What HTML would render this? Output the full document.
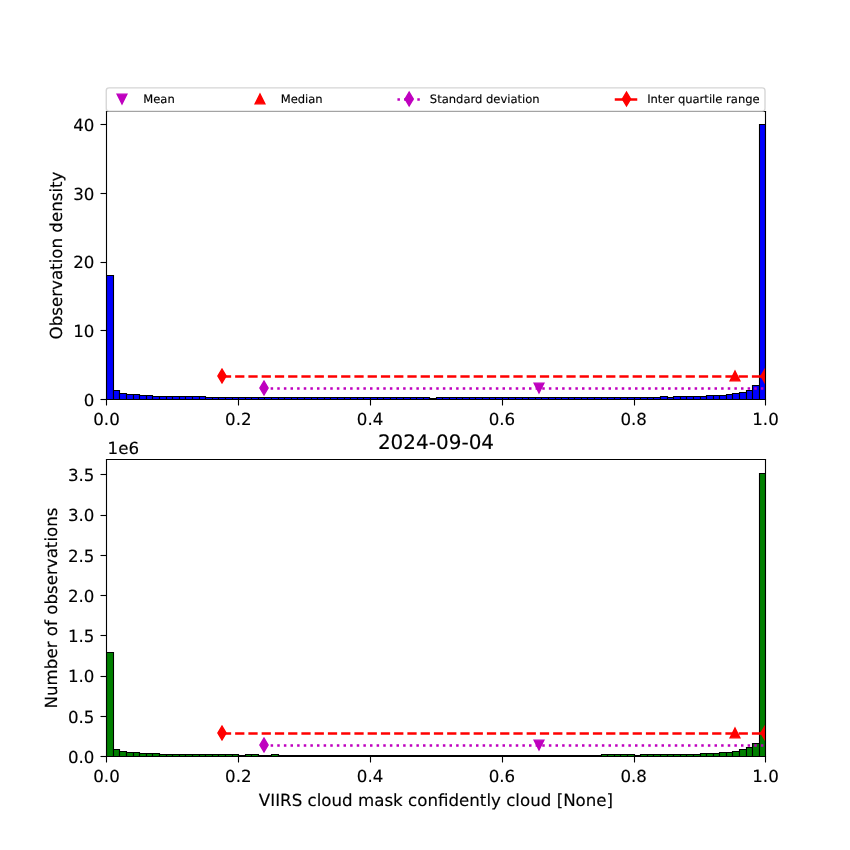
<!DOCTYPE html>
<html lang="en"><head><meta charset="utf-8"><title>VIIRS cloud mask histogram 2024-09-04</title>
<style>
html,body{margin:0;padding:0;background:#fff;}
body{width:850px;height:850px;overflow:hidden;font-family:"DejaVu Sans","Liberation Sans",sans-serif;}
svg{display:block;}
svg text{text-rendering:geometricPrecision;stroke:#000;stroke-width:0.1px;}
</style></head><body>
<svg width="850" height="850" viewBox="0 0 612 612" version="1.1">
<defs>
<style type="text/css">*{stroke-linejoin: round; stroke-linecap: butt}</style>
</defs>
<g id="figure_1">
<g id="patch_1">
<path d="M 0 612 L 612 612 L 612 0 L 0 0 z" style="fill: #ffffff"/>
</g>
<g id="axes_1">
<g id="patch_2">
<path d="M 76.68 287.64 L 551.16 287.64 L 551.16 80.28 L 76.68 80.28 z" style="fill: #ffffff"/>
</g>
<g id="patch_3">
<path d="M 76.68 287.64 L 81.72 287.64 L 81.72 198.36 L 76.68 198.36 z" clip-path="url(#p61da89e4b9)" style="fill: #0000ff; stroke: #000000; stroke-width: 0.8; stroke-linejoin: miter"/>
</g>
<g id="patch_4">
<path d="M 81.72 287.64 L 86.04 287.64 L 86.04 281.16 L 81.72 281.16 z" clip-path="url(#p61da89e4b9)" style="fill: #0000ff; stroke: #000000; stroke-width: 0.8; stroke-linejoin: miter"/>
</g>
<g id="patch_5">
<path d="M 86.04 287.64 L 91.08 287.64 L 91.08 283.32 L 86.04 283.32 z" clip-path="url(#p61da89e4b9)" style="fill: #0000ff; stroke: #000000; stroke-width: 0.8; stroke-linejoin: miter"/>
</g>
<g id="patch_6">
<path d="M 91.08 287.64 L 96.12 287.64 L 96.12 284.04 L 91.08 284.04 z" clip-path="url(#p61da89e4b9)" style="fill: #0000ff; stroke: #000000; stroke-width: 0.8; stroke-linejoin: miter"/>
</g>
<g id="patch_7">
<path d="M 96.12 287.64 L 100.44 287.64 L 100.44 284.04 L 96.12 284.04 z" clip-path="url(#p61da89e4b9)" style="fill: #0000ff; stroke: #000000; stroke-width: 0.8; stroke-linejoin: miter"/>
</g>
<g id="patch_8">
<path d="M 100.44 287.64 L 105.48 287.64 L 105.48 284.76 L 100.44 284.76 z" clip-path="url(#p61da89e4b9)" style="fill: #0000ff; stroke: #000000; stroke-width: 0.8; stroke-linejoin: miter"/>
</g>
<g id="patch_9">
<path d="M 105.48 287.64 L 109.8 287.64 L 109.8 284.76 L 105.48 284.76 z" clip-path="url(#p61da89e4b9)" style="fill: #0000ff; stroke: #000000; stroke-width: 0.8; stroke-linejoin: miter"/>
</g>
<g id="patch_10">
<path d="M 109.8 287.64 L 114.84 287.64 L 114.84 285.48 L 109.8 285.48 z" clip-path="url(#p61da89e4b9)" style="fill: #0000ff; stroke: #000000; stroke-width: 0.8; stroke-linejoin: miter"/>
</g>
<g id="patch_11">
<path d="M 114.84 287.64 L 119.88 287.64 L 119.88 285.48 L 114.84 285.48 z" clip-path="url(#p61da89e4b9)" style="fill: #0000ff; stroke: #000000; stroke-width: 0.8; stroke-linejoin: miter"/>
</g>
<g id="patch_12">
<path d="M 119.88 287.64 L 124.2 287.64 L 124.2 285.48 L 119.88 285.48 z" clip-path="url(#p61da89e4b9)" style="fill: #0000ff; stroke: #000000; stroke-width: 0.8; stroke-linejoin: miter"/>
</g>
<g id="patch_13">
<path d="M 124.2 287.64 L 129.24 287.64 L 129.24 285.48 L 124.2 285.48 z" clip-path="url(#p61da89e4b9)" style="fill: #0000ff; stroke: #000000; stroke-width: 0.8; stroke-linejoin: miter"/>
</g>
<g id="patch_14">
<path d="M 129.24 287.64 L 133.56 287.64 L 133.56 285.48 L 129.24 285.48 z" clip-path="url(#p61da89e4b9)" style="fill: #0000ff; stroke: #000000; stroke-width: 0.8; stroke-linejoin: miter"/>
</g>
<g id="patch_15">
<path d="M 133.56 287.64 L 138.6 287.64 L 138.6 285.48 L 133.56 285.48 z" clip-path="url(#p61da89e4b9)" style="fill: #0000ff; stroke: #000000; stroke-width: 0.8; stroke-linejoin: miter"/>
</g>
<g id="patch_16">
<path d="M 138.6 287.64 L 143.64 287.64 L 143.64 285.48 L 138.6 285.48 z" clip-path="url(#p61da89e4b9)" style="fill: #0000ff; stroke: #000000; stroke-width: 0.8; stroke-linejoin: miter"/>
</g>
<g id="patch_17">
<path d="M 143.64 287.64 L 147.96 287.64 L 147.96 285.48 L 143.64 285.48 z" clip-path="url(#p61da89e4b9)" style="fill: #0000ff; stroke: #000000; stroke-width: 0.8; stroke-linejoin: miter"/>
</g>
<g id="patch_18">
<path d="M 147.96 287.64 L 153 287.64 L 153 286.2 L 147.96 286.2 z" clip-path="url(#p61da89e4b9)" style="fill: #0000ff; stroke: #000000; stroke-width: 0.8; stroke-linejoin: miter"/>
</g>
<g id="patch_19">
<path d="M 153 287.64 L 157.32 287.64 L 157.32 286.2 L 153 286.2 z" clip-path="url(#p61da89e4b9)" style="fill: #0000ff; stroke: #000000; stroke-width: 0.8; stroke-linejoin: miter"/>
</g>
<g id="patch_20">
<path d="M 157.32 287.64 L 162.36 287.64 L 162.36 286.2 L 157.32 286.2 z" clip-path="url(#p61da89e4b9)" style="fill: #0000ff; stroke: #000000; stroke-width: 0.8; stroke-linejoin: miter"/>
</g>
<g id="patch_21">
<path d="M 162.36 287.64 L 167.4 287.64 L 167.4 286.2 L 162.36 286.2 z" clip-path="url(#p61da89e4b9)" style="fill: #0000ff; stroke: #000000; stroke-width: 0.8; stroke-linejoin: miter"/>
</g>
<g id="patch_22">
<path d="M 167.4 287.64 L 171.72 287.64 L 171.72 286.2 L 167.4 286.2 z" clip-path="url(#p61da89e4b9)" style="fill: #0000ff; stroke: #000000; stroke-width: 0.8; stroke-linejoin: miter"/>
</g>
<g id="patch_23">
<path d="M 171.72 287.64 L 176.76 287.64 L 176.76 286.2 L 171.72 286.2 z" clip-path="url(#p61da89e4b9)" style="fill: #0000ff; stroke: #000000; stroke-width: 0.8; stroke-linejoin: miter"/>
</g>
<g id="patch_24">
<path d="M 176.76 287.64 L 181.08 287.64 L 181.08 286.2 L 176.76 286.2 z" clip-path="url(#p61da89e4b9)" style="fill: #0000ff; stroke: #000000; stroke-width: 0.8; stroke-linejoin: miter"/>
</g>
<g id="patch_25">
<path d="M 181.08 287.64 L 186.12 287.64 L 186.12 286.2 L 181.08 286.2 z" clip-path="url(#p61da89e4b9)" style="fill: #0000ff; stroke: #000000; stroke-width: 0.8; stroke-linejoin: miter"/>
</g>
<g id="patch_26">
<path d="M 186.12 287.64 L 190.44 287.64 L 190.44 286.2 L 186.12 286.2 z" clip-path="url(#p61da89e4b9)" style="fill: #0000ff; stroke: #000000; stroke-width: 0.8; stroke-linejoin: miter"/>
</g>
<g id="patch_27">
<path d="M 190.44 287.64 L 195.48 287.64 L 195.48 286.2 L 190.44 286.2 z" clip-path="url(#p61da89e4b9)" style="fill: #0000ff; stroke: #000000; stroke-width: 0.8; stroke-linejoin: miter"/>
</g>
<g id="patch_28">
<path d="M 195.48 287.64 L 200.52 287.64 L 200.52 286.2 L 195.48 286.2 z" clip-path="url(#p61da89e4b9)" style="fill: #0000ff; stroke: #000000; stroke-width: 0.8; stroke-linejoin: miter"/>
</g>
<g id="patch_29">
<path d="M 200.52 287.64 L 204.84 287.64 L 204.84 286.2 L 200.52 286.2 z" clip-path="url(#p61da89e4b9)" style="fill: #0000ff; stroke: #000000; stroke-width: 0.8; stroke-linejoin: miter"/>
</g>
<g id="patch_30">
<path d="M 204.84 287.64 L 209.88 287.64 L 209.88 286.2 L 204.84 286.2 z" clip-path="url(#p61da89e4b9)" style="fill: #0000ff; stroke: #000000; stroke-width: 0.8; stroke-linejoin: miter"/>
</g>
<g id="patch_31">
<path d="M 209.88 287.64 L 214.2 287.64 L 214.2 286.2 L 209.88 286.2 z" clip-path="url(#p61da89e4b9)" style="fill: #0000ff; stroke: #000000; stroke-width: 0.8; stroke-linejoin: miter"/>
</g>
<g id="patch_32">
<path d="M 214.2 287.64 L 219.24 287.64 L 219.24 286.2 L 214.2 286.2 z" clip-path="url(#p61da89e4b9)" style="fill: #0000ff; stroke: #000000; stroke-width: 0.8; stroke-linejoin: miter"/>
</g>
<g id="patch_33">
<path d="M 219.24 287.64 L 224.28 287.64 L 224.28 286.2 L 219.24 286.2 z" clip-path="url(#p61da89e4b9)" style="fill: #0000ff; stroke: #000000; stroke-width: 0.8; stroke-linejoin: miter"/>
</g>
<g id="patch_34">
<path d="M 224.28 287.64 L 228.6 287.64 L 228.6 286.2 L 224.28 286.2 z" clip-path="url(#p61da89e4b9)" style="fill: #0000ff; stroke: #000000; stroke-width: 0.8; stroke-linejoin: miter"/>
</g>
<g id="patch_35">
<path d="M 228.6 287.64 L 233.64 287.64 L 233.64 286.2 L 228.6 286.2 z" clip-path="url(#p61da89e4b9)" style="fill: #0000ff; stroke: #000000; stroke-width: 0.8; stroke-linejoin: miter"/>
</g>
<g id="patch_36">
<path d="M 233.64 287.64 L 237.96 287.64 L 237.96 286.2 L 233.64 286.2 z" clip-path="url(#p61da89e4b9)" style="fill: #0000ff; stroke: #000000; stroke-width: 0.8; stroke-linejoin: miter"/>
</g>
<g id="patch_37">
<path d="M 237.96 287.64 L 243 287.64 L 243 286.2 L 237.96 286.2 z" clip-path="url(#p61da89e4b9)" style="fill: #0000ff; stroke: #000000; stroke-width: 0.8; stroke-linejoin: miter"/>
</g>
<g id="patch_38">
<path d="M 243 287.64 L 248.04 287.64 L 248.04 286.2 L 243 286.2 z" clip-path="url(#p61da89e4b9)" style="fill: #0000ff; stroke: #000000; stroke-width: 0.8; stroke-linejoin: miter"/>
</g>
<g id="patch_39">
<path d="M 248.04 287.64 L 252.36 287.64 L 252.36 286.2 L 248.04 286.2 z" clip-path="url(#p61da89e4b9)" style="fill: #0000ff; stroke: #000000; stroke-width: 0.8; stroke-linejoin: miter"/>
</g>
<g id="patch_40">
<path d="M 252.36 287.64 L 257.4 287.64 L 257.4 286.2 L 252.36 286.2 z" clip-path="url(#p61da89e4b9)" style="fill: #0000ff; stroke: #000000; stroke-width: 0.8; stroke-linejoin: miter"/>
</g>
<g id="patch_41">
<path d="M 257.4 287.64 L 261.72 287.64 L 261.72 286.2 L 257.4 286.2 z" clip-path="url(#p61da89e4b9)" style="fill: #0000ff; stroke: #000000; stroke-width: 0.8; stroke-linejoin: miter"/>
</g>
<g id="patch_42">
<path d="M 261.72 287.64 L 266.76 287.64 L 266.76 286.2 L 261.72 286.2 z" clip-path="url(#p61da89e4b9)" style="fill: #0000ff; stroke: #000000; stroke-width: 0.8; stroke-linejoin: miter"/>
</g>
<g id="patch_43">
<path d="M 266.76 287.64 L 271.8 287.64 L 271.8 286.2 L 266.76 286.2 z" clip-path="url(#p61da89e4b9)" style="fill: #0000ff; stroke: #000000; stroke-width: 0.8; stroke-linejoin: miter"/>
</g>
<g id="patch_44">
<path d="M 271.8 287.64 L 276.12 287.64 L 276.12 286.2 L 271.8 286.2 z" clip-path="url(#p61da89e4b9)" style="fill: #0000ff; stroke: #000000; stroke-width: 0.8; stroke-linejoin: miter"/>
</g>
<g id="patch_45">
<path d="M 276.12 287.64 L 281.16 287.64 L 281.16 286.2 L 276.12 286.2 z" clip-path="url(#p61da89e4b9)" style="fill: #0000ff; stroke: #000000; stroke-width: 0.8; stroke-linejoin: miter"/>
</g>
<g id="patch_46">
<path d="M 281.16 287.64 L 285.48 287.64 L 285.48 286.2 L 281.16 286.2 z" clip-path="url(#p61da89e4b9)" style="fill: #0000ff; stroke: #000000; stroke-width: 0.8; stroke-linejoin: miter"/>
</g>
<g id="patch_47">
<path d="M 285.48 287.64 L 290.52 287.64 L 290.52 286.2 L 285.48 286.2 z" clip-path="url(#p61da89e4b9)" style="fill: #0000ff; stroke: #000000; stroke-width: 0.8; stroke-linejoin: miter"/>
</g>
<g id="patch_48">
<path d="M 290.52 287.64 L 295.56 287.64 L 295.56 286.2 L 290.52 286.2 z" clip-path="url(#p61da89e4b9)" style="fill: #0000ff; stroke: #000000; stroke-width: 0.8; stroke-linejoin: miter"/>
</g>
<g id="patch_49">
<path d="M 295.56 287.64 L 299.88 287.64 L 299.88 286.2 L 295.56 286.2 z" clip-path="url(#p61da89e4b9)" style="fill: #0000ff; stroke: #000000; stroke-width: 0.8; stroke-linejoin: miter"/>
</g>
<g id="patch_50">
<path d="M 299.88 287.64 L 304.92 287.64 L 304.92 286.2 L 299.88 286.2 z" clip-path="url(#p61da89e4b9)" style="fill: #0000ff; stroke: #000000; stroke-width: 0.8; stroke-linejoin: miter"/>
</g>
<g id="patch_51">
<path d="M 304.92 287.64 L 309.24 287.64 L 309.24 286.2 L 304.92 286.2 z" clip-path="url(#p61da89e4b9)" style="fill: #0000ff; stroke: #000000; stroke-width: 0.8; stroke-linejoin: miter"/>
</g>
<g id="patch_52">
<path d="M 309.24 287.64 L 314.28 287.64 L 314.28 286.92 L 309.24 286.92 z" clip-path="url(#p61da89e4b9)" style="fill: #0000ff; stroke: #000000; stroke-width: 0.8; stroke-linejoin: miter"/>
</g>
<g id="patch_53">
<path d="M 314.28 287.64 L 318.6 287.64 L 318.6 286.2 L 314.28 286.2 z" clip-path="url(#p61da89e4b9)" style="fill: #0000ff; stroke: #000000; stroke-width: 0.8; stroke-linejoin: miter"/>
</g>
<g id="patch_54">
<path d="M 318.6 287.64 L 323.64 287.64 L 323.64 286.2 L 318.6 286.2 z" clip-path="url(#p61da89e4b9)" style="fill: #0000ff; stroke: #000000; stroke-width: 0.8; stroke-linejoin: miter"/>
</g>
<g id="patch_55">
<path d="M 323.64 287.64 L 328.68 287.64 L 328.68 286.2 L 323.64 286.2 z" clip-path="url(#p61da89e4b9)" style="fill: #0000ff; stroke: #000000; stroke-width: 0.8; stroke-linejoin: miter"/>
</g>
<g id="patch_56">
<path d="M 328.68 287.64 L 333 287.64 L 333 286.2 L 328.68 286.2 z" clip-path="url(#p61da89e4b9)" style="fill: #0000ff; stroke: #000000; stroke-width: 0.8; stroke-linejoin: miter"/>
</g>
<g id="patch_57">
<path d="M 333 287.64 L 338.04 287.64 L 338.04 286.2 L 333 286.2 z" clip-path="url(#p61da89e4b9)" style="fill: #0000ff; stroke: #000000; stroke-width: 0.8; stroke-linejoin: miter"/>
</g>
<g id="patch_58">
<path d="M 338.04 287.64 L 342.36 287.64 L 342.36 286.2 L 338.04 286.2 z" clip-path="url(#p61da89e4b9)" style="fill: #0000ff; stroke: #000000; stroke-width: 0.8; stroke-linejoin: miter"/>
</g>
<g id="patch_59">
<path d="M 342.36 287.64 L 347.4 287.64 L 347.4 286.2 L 342.36 286.2 z" clip-path="url(#p61da89e4b9)" style="fill: #0000ff; stroke: #000000; stroke-width: 0.8; stroke-linejoin: miter"/>
</g>
<g id="patch_60">
<path d="M 347.4 287.64 L 352.44 287.64 L 352.44 286.2 L 347.4 286.2 z" clip-path="url(#p61da89e4b9)" style="fill: #0000ff; stroke: #000000; stroke-width: 0.8; stroke-linejoin: miter"/>
</g>
<g id="patch_61">
<path d="M 352.44 287.64 L 356.76 287.64 L 356.76 286.2 L 352.44 286.2 z" clip-path="url(#p61da89e4b9)" style="fill: #0000ff; stroke: #000000; stroke-width: 0.8; stroke-linejoin: miter"/>
</g>
<g id="patch_62">
<path d="M 356.76 287.64 L 361.8 287.64 L 361.8 286.2 L 356.76 286.2 z" clip-path="url(#p61da89e4b9)" style="fill: #0000ff; stroke: #000000; stroke-width: 0.8; stroke-linejoin: miter"/>
</g>
<g id="patch_63">
<path d="M 361.8 287.64 L 366.12 287.64 L 366.12 286.2 L 361.8 286.2 z" clip-path="url(#p61da89e4b9)" style="fill: #0000ff; stroke: #000000; stroke-width: 0.8; stroke-linejoin: miter"/>
</g>
<g id="patch_64">
<path d="M 366.12 287.64 L 371.16 287.64 L 371.16 286.2 L 366.12 286.2 z" clip-path="url(#p61da89e4b9)" style="fill: #0000ff; stroke: #000000; stroke-width: 0.8; stroke-linejoin: miter"/>
</g>
<g id="patch_65">
<path d="M 371.16 287.64 L 376.2 287.64 L 376.2 286.2 L 371.16 286.2 z" clip-path="url(#p61da89e4b9)" style="fill: #0000ff; stroke: #000000; stroke-width: 0.8; stroke-linejoin: miter"/>
</g>
<g id="patch_66">
<path d="M 376.2 287.64 L 380.52 287.64 L 380.52 286.2 L 376.2 286.2 z" clip-path="url(#p61da89e4b9)" style="fill: #0000ff; stroke: #000000; stroke-width: 0.8; stroke-linejoin: miter"/>
</g>
<g id="patch_67">
<path d="M 380.52 287.64 L 385.56 287.64 L 385.56 286.2 L 380.52 286.2 z" clip-path="url(#p61da89e4b9)" style="fill: #0000ff; stroke: #000000; stroke-width: 0.8; stroke-linejoin: miter"/>
</g>
<g id="patch_68">
<path d="M 385.56 287.64 L 389.88 287.64 L 389.88 286.2 L 385.56 286.2 z" clip-path="url(#p61da89e4b9)" style="fill: #0000ff; stroke: #000000; stroke-width: 0.8; stroke-linejoin: miter"/>
</g>
<g id="patch_69">
<path d="M 389.88 287.64 L 394.92 287.64 L 394.92 286.2 L 389.88 286.2 z" clip-path="url(#p61da89e4b9)" style="fill: #0000ff; stroke: #000000; stroke-width: 0.8; stroke-linejoin: miter"/>
</g>
<g id="patch_70">
<path d="M 394.92 287.64 L 399.96 287.64 L 399.96 286.2 L 394.92 286.2 z" clip-path="url(#p61da89e4b9)" style="fill: #0000ff; stroke: #000000; stroke-width: 0.8; stroke-linejoin: miter"/>
</g>
<g id="patch_71">
<path d="M 399.96 287.64 L 404.28 287.64 L 404.28 286.2 L 399.96 286.2 z" clip-path="url(#p61da89e4b9)" style="fill: #0000ff; stroke: #000000; stroke-width: 0.8; stroke-linejoin: miter"/>
</g>
<g id="patch_72">
<path d="M 404.28 287.64 L 409.32 287.64 L 409.32 286.2 L 404.28 286.2 z" clip-path="url(#p61da89e4b9)" style="fill: #0000ff; stroke: #000000; stroke-width: 0.8; stroke-linejoin: miter"/>
</g>
<g id="patch_73">
<path d="M 409.32 287.64 L 413.64 287.64 L 413.64 286.2 L 409.32 286.2 z" clip-path="url(#p61da89e4b9)" style="fill: #0000ff; stroke: #000000; stroke-width: 0.8; stroke-linejoin: miter"/>
</g>
<g id="patch_74">
<path d="M 413.64 287.64 L 418.68 287.64 L 418.68 286.2 L 413.64 286.2 z" clip-path="url(#p61da89e4b9)" style="fill: #0000ff; stroke: #000000; stroke-width: 0.8; stroke-linejoin: miter"/>
</g>
<g id="patch_75">
<path d="M 418.68 287.64 L 423 287.64 L 423 286.2 L 418.68 286.2 z" clip-path="url(#p61da89e4b9)" style="fill: #0000ff; stroke: #000000; stroke-width: 0.8; stroke-linejoin: miter"/>
</g>
<g id="patch_76">
<path d="M 423 287.64 L 428.04 287.64 L 428.04 286.2 L 423 286.2 z" clip-path="url(#p61da89e4b9)" style="fill: #0000ff; stroke: #000000; stroke-width: 0.8; stroke-linejoin: miter"/>
</g>
<g id="patch_77">
<path d="M 428.04 287.64 L 433.08 287.64 L 433.08 286.2 L 428.04 286.2 z" clip-path="url(#p61da89e4b9)" style="fill: #0000ff; stroke: #000000; stroke-width: 0.8; stroke-linejoin: miter"/>
</g>
<g id="patch_78">
<path d="M 433.08 287.64 L 437.4 287.64 L 437.4 286.2 L 433.08 286.2 z" clip-path="url(#p61da89e4b9)" style="fill: #0000ff; stroke: #000000; stroke-width: 0.8; stroke-linejoin: miter"/>
</g>
<g id="patch_79">
<path d="M 437.4 287.64 L 442.44 287.64 L 442.44 286.2 L 437.4 286.2 z" clip-path="url(#p61da89e4b9)" style="fill: #0000ff; stroke: #000000; stroke-width: 0.8; stroke-linejoin: miter"/>
</g>
<g id="patch_80">
<path d="M 442.44 287.64 L 446.76 287.64 L 446.76 286.2 L 442.44 286.2 z" clip-path="url(#p61da89e4b9)" style="fill: #0000ff; stroke: #000000; stroke-width: 0.8; stroke-linejoin: miter"/>
</g>
<g id="patch_81">
<path d="M 446.76 287.64 L 451.8 287.64 L 451.8 286.2 L 446.76 286.2 z" clip-path="url(#p61da89e4b9)" style="fill: #0000ff; stroke: #000000; stroke-width: 0.8; stroke-linejoin: miter"/>
</g>
<g id="patch_82">
<path d="M 451.8 287.64 L 456.84 287.64 L 456.84 286.2 L 451.8 286.2 z" clip-path="url(#p61da89e4b9)" style="fill: #0000ff; stroke: #000000; stroke-width: 0.8; stroke-linejoin: miter"/>
</g>
<g id="patch_83">
<path d="M 456.84 287.64 L 461.16 287.64 L 461.16 286.2 L 456.84 286.2 z" clip-path="url(#p61da89e4b9)" style="fill: #0000ff; stroke: #000000; stroke-width: 0.8; stroke-linejoin: miter"/>
</g>
<g id="patch_84">
<path d="M 461.16 287.64 L 466.2 287.64 L 466.2 286.2 L 461.16 286.2 z" clip-path="url(#p61da89e4b9)" style="fill: #0000ff; stroke: #000000; stroke-width: 0.8; stroke-linejoin: miter"/>
</g>
<g id="patch_85">
<path d="M 466.2 287.64 L 470.52 287.64 L 470.52 286.2 L 466.2 286.2 z" clip-path="url(#p61da89e4b9)" style="fill: #0000ff; stroke: #000000; stroke-width: 0.8; stroke-linejoin: miter"/>
</g>
<g id="patch_86">
<path d="M 470.52 287.64 L 475.56 287.64 L 475.56 286.2 L 470.52 286.2 z" clip-path="url(#p61da89e4b9)" style="fill: #0000ff; stroke: #000000; stroke-width: 0.8; stroke-linejoin: miter"/>
</g>
<g id="patch_87">
<path d="M 475.56 287.64 L 480.6 287.64 L 480.6 285.48 L 475.56 285.48 z" clip-path="url(#p61da89e4b9)" style="fill: #0000ff; stroke: #000000; stroke-width: 0.8; stroke-linejoin: miter"/>
</g>
<g id="patch_88">
<path d="M 480.6 287.64 L 484.92 287.64 L 484.92 286.2 L 480.6 286.2 z" clip-path="url(#p61da89e4b9)" style="fill: #0000ff; stroke: #000000; stroke-width: 0.8; stroke-linejoin: miter"/>
</g>
<g id="patch_89">
<path d="M 484.92 287.64 L 489.96 287.64 L 489.96 285.48 L 484.92 285.48 z" clip-path="url(#p61da89e4b9)" style="fill: #0000ff; stroke: #000000; stroke-width: 0.8; stroke-linejoin: miter"/>
</g>
<g id="patch_90">
<path d="M 489.96 287.64 L 494.28 287.64 L 494.28 285.48 L 489.96 285.48 z" clip-path="url(#p61da89e4b9)" style="fill: #0000ff; stroke: #000000; stroke-width: 0.8; stroke-linejoin: miter"/>
</g>
<g id="patch_91">
<path d="M 494.28 287.64 L 499.32 287.64 L 499.32 285.48 L 494.28 285.48 z" clip-path="url(#p61da89e4b9)" style="fill: #0000ff; stroke: #000000; stroke-width: 0.8; stroke-linejoin: miter"/>
</g>
<g id="patch_92">
<path d="M 499.32 287.64 L 504.36 287.64 L 504.36 285.48 L 499.32 285.48 z" clip-path="url(#p61da89e4b9)" style="fill: #0000ff; stroke: #000000; stroke-width: 0.8; stroke-linejoin: miter"/>
</g>
<g id="patch_93">
<path d="M 504.36 287.64 L 508.68 287.64 L 508.68 285.48 L 504.36 285.48 z" clip-path="url(#p61da89e4b9)" style="fill: #0000ff; stroke: #000000; stroke-width: 0.8; stroke-linejoin: miter"/>
</g>
<g id="patch_94">
<path d="M 508.68 287.64 L 513.72 287.64 L 513.72 284.76 L 508.68 284.76 z" clip-path="url(#p61da89e4b9)" style="fill: #0000ff; stroke: #000000; stroke-width: 0.8; stroke-linejoin: miter"/>
</g>
<g id="patch_95">
<path d="M 513.72 287.64 L 518.04 287.64 L 518.04 284.76 L 513.72 284.76 z" clip-path="url(#p61da89e4b9)" style="fill: #0000ff; stroke: #000000; stroke-width: 0.8; stroke-linejoin: miter"/>
</g>
<g id="patch_96">
<path d="M 518.04 287.64 L 523.08 287.64 L 523.08 284.76 L 518.04 284.76 z" clip-path="url(#p61da89e4b9)" style="fill: #0000ff; stroke: #000000; stroke-width: 0.8; stroke-linejoin: miter"/>
</g>
<g id="patch_97">
<path d="M 523.08 287.64 L 527.4 287.64 L 527.4 284.04 L 523.08 284.04 z" clip-path="url(#p61da89e4b9)" style="fill: #0000ff; stroke: #000000; stroke-width: 0.8; stroke-linejoin: miter"/>
</g>
<g id="patch_98">
<path d="M 527.4 287.64 L 532.44 287.64 L 532.44 283.32 L 527.4 283.32 z" clip-path="url(#p61da89e4b9)" style="fill: #0000ff; stroke: #000000; stroke-width: 0.8; stroke-linejoin: miter"/>
</g>
<g id="patch_99">
<path d="M 532.44 287.64 L 537.48 287.64 L 537.48 282.6 L 532.44 282.6 z" clip-path="url(#p61da89e4b9)" style="fill: #0000ff; stroke: #000000; stroke-width: 0.8; stroke-linejoin: miter"/>
</g>
<g id="patch_100">
<path d="M 537.48 287.64 L 541.8 287.64 L 541.8 281.16 L 537.48 281.16 z" clip-path="url(#p61da89e4b9)" style="fill: #0000ff; stroke: #000000; stroke-width: 0.8; stroke-linejoin: miter"/>
</g>
<g id="patch_101">
<path d="M 541.8 287.64 L 546.84 287.64 L 546.84 277.56 L 541.8 277.56 z" clip-path="url(#p61da89e4b9)" style="fill: #0000ff; stroke: #000000; stroke-width: 0.8; stroke-linejoin: miter"/>
</g>
<g id="patch_102">
<path d="M 546.84 287.64 L 551.16 287.64 L 551.16 89.64 L 546.84 89.64 z" clip-path="url(#p61da89e4b9)" style="fill: #0000ff; stroke: #000000; stroke-width: 0.8; stroke-linejoin: miter"/>
</g>
<g id="matplotlib.axis_1">
<g id="xtick_1">
<g id="line2d_1">
<defs>
<path id="m9e2ede5a7e" d="M 0 0 L 0 4.32 " style="stroke: #000000; stroke-width: 0.8"/>
</defs>
<g>
<use href="#m9e2ede5a7e" x="76.6800" y="287.6400" style="stroke: #000000; stroke-width: 0.8"/>
</g>
</g>
<g id="text_1">
<text style="font-size: 12px; font-family: 'DejaVu Sans', sans-serif; text-anchor: middle" x="76.68" y="306.058125">0.0</text>
</g>
</g>
<g id="xtick_2">
<g id="line2d_2">
<g>
<use href="#m9e2ede5a7e" x="171.7200" y="287.6400" style="stroke: #000000; stroke-width: 0.8"/>
</g>
</g>
<g id="text_2">
<text style="font-size: 12px; font-family: 'DejaVu Sans', sans-serif; text-anchor: middle" x="171.576" y="306.058125">0.2</text>
</g>
</g>
<g id="xtick_3">
<g id="line2d_3">
<g>
<use href="#m9e2ede5a7e" x="266.7600" y="287.6400" style="stroke: #000000; stroke-width: 0.8"/>
</g>
</g>
<g id="text_3">
<text style="font-size: 12px; font-family: 'DejaVu Sans', sans-serif; text-anchor: middle" x="266.472" y="306.058125">0.4</text>
</g>
</g>
<g id="xtick_4">
<g id="line2d_4">
<g>
<use href="#m9e2ede5a7e" x="361.8000" y="287.6400" style="stroke: #000000; stroke-width: 0.8"/>
</g>
</g>
<g id="text_4">
<text style="font-size: 12px; font-family: 'DejaVu Sans', sans-serif; text-anchor: middle" x="361.368" y="306.058125">0.6</text>
</g>
</g>
<g id="xtick_5">
<g id="line2d_5">
<g>
<use href="#m9e2ede5a7e" x="456.8400" y="287.6400" style="stroke: #000000; stroke-width: 0.8"/>
</g>
</g>
<g id="text_5">
<text style="font-size: 12px; font-family: 'DejaVu Sans', sans-serif; text-anchor: middle" x="456.264" y="306.058125">0.8</text>
</g>
</g>
<g id="xtick_6">
<g id="line2d_6">
<g>
<use href="#m9e2ede5a7e" x="551.1600" y="287.6400" style="stroke: #000000; stroke-width: 0.8"/>
</g>
</g>
<g id="text_6">
<text style="font-size: 12px; font-family: 'DejaVu Sans', sans-serif; text-anchor: middle" x="551.16" y="306.058125">1.0</text>
</g>
</g>
</g>
<g id="matplotlib.axis_2">
<g id="ytick_1">
<g id="line2d_7">
<defs>
<path id="mfef0c38aaf" d="M 0 0 L -4.32 0 " style="stroke: #000000; stroke-width: 0.8"/>
</defs>
<g>
<use href="#mfef0c38aaf" x="76.6800" y="287.6400" style="stroke: #000000; stroke-width: 0.8"/>
</g>
</g>
<g id="text_7">
<text style="font-size: 12px; font-family: 'DejaVu Sans', sans-serif; text-anchor: end" x="68.03" y="292.199062">0</text>
</g>
</g>
<g id="ytick_2">
<g id="line2d_8">
<g>
<use href="#mfef0c38aaf" x="76.6800" y="237.9600" style="stroke: #000000; stroke-width: 0.8"/>
</g>
</g>
<g id="text_8">
<text style="font-size: 12px; font-family: 'DejaVu Sans', sans-serif; text-anchor: end" x="68.03" y="242.699062">10</text>
</g>
</g>
<g id="ytick_3">
<g id="line2d_9">
<g>
<use href="#mfef0c38aaf" x="76.6800" y="189.0000" style="stroke: #000000; stroke-width: 0.8"/>
</g>
</g>
<g id="text_9">
<text style="font-size: 12px; font-family: 'DejaVu Sans', sans-serif; text-anchor: end" x="68.03" y="193.199062">20</text>
</g>
</g>
<g id="ytick_4">
<g id="line2d_10">
<g>
<use href="#mfef0c38aaf" x="76.6800" y="139.3200" style="stroke: #000000; stroke-width: 0.8"/>
</g>
</g>
<g id="text_10">
<text style="font-size: 12px; font-family: 'DejaVu Sans', sans-serif; text-anchor: end" x="68.03" y="143.699062">30</text>
</g>
</g>
<g id="ytick_5">
<g id="line2d_11">
<g>
<use href="#mfef0c38aaf" x="76.6800" y="89.6400" style="stroke: #000000; stroke-width: 0.8"/>
</g>
</g>
<g id="text_11">
<text style="font-size: 12px; font-family: 'DejaVu Sans', sans-serif; text-anchor: end" x="68.03" y="94.199062">40</text>
</g>
</g>
<g id="text_12">
<text style="font-size: 12px; font-family: 'DejaVu Sans', sans-serif; text-anchor: middle" x="44.364375" y="183.96" transform="rotate(-90 44.364375 183.96)">Observation density</text>
</g>
</g>
<g id="line2d_12">
<defs>
<path id="m72cab0bea4" d="M -0 3.5 L 3.5 -3.5 L -3.5 -3.5 z" style="stroke: #bf00bf; stroke-linejoin: miter"/>
</defs>
<g clip-path="url(#p61da89e4b9)">
<use href="#m72cab0bea4" x="388.0800" y="279.3600" style="fill: #bf00bf; stroke: #bf00bf; stroke-linejoin: miter"/>
</g>
</g>
<g id="line2d_13">
<defs>
<path id="m4deedd8c69" d="M 0 -3.5 L -3.5 3.5 L 3.5 3.5 z" style="stroke: #ff0000; stroke-linejoin: miter"/>
</defs>
<g clip-path="url(#p61da89e4b9)">
<use href="#m4deedd8c69" x="529.2000" y="270.7200" style="fill: #ff0000; stroke: #ff0000; stroke-linejoin: miter"/>
</g>
</g>
<g id="line2d_14">
<path d="M 190.08072 279.72 L 585.986832 279.72 " clip-path="url(#p61da89e4b9)" style="fill: none; stroke-dasharray: 1.8,2.97; stroke-dashoffset: 0; stroke: #bf00bf; stroke-width: 1.8"/>
<defs>
<path id="ma1c6d2c03d" d="M -0 4.949747 L 2.969848 0 L 0 -4.949747 L -2.969848 -0 z" style="stroke: #bf00bf; stroke-linejoin: miter"/>
</defs>
<g clip-path="url(#p61da89e4b9)">
<use href="#ma1c6d2c03d" x="190.0800" y="279.3600" style="fill: #bf00bf; stroke: #bf00bf; stroke-linejoin: miter"/>
<use href="#ma1c6d2c03d" x="586.0800" y="279.3600" style="fill: #bf00bf; stroke: #bf00bf; stroke-linejoin: miter"/>
</g>
</g>
<g id="line2d_15">
<path d="M 159.761448 271.08 L 551.16 271.08 " clip-path="url(#p61da89e4b9)" style="fill: none; stroke-dasharray: 6.66,2.88; stroke-dashoffset: 0; stroke: #ff0000; stroke-width: 1.8"/>
<defs>
<path id="m2a46c5d71a" d="M -0 4.949747 L 2.969848 0 L 0 -4.949747 L -2.969848 -0 z" style="stroke: #ff0000; stroke-linejoin: miter"/>
</defs>
<g clip-path="url(#p61da89e4b9)">
<use href="#m2a46c5d71a" x="159.8400" y="270.7200" style="fill: #ff0000; stroke: #ff0000; stroke-linejoin: miter"/>
<use href="#m2a46c5d71a" x="550.8000" y="270.7200" style="fill: #ff0000; stroke: #ff0000; stroke-linejoin: miter"/>
</g>
</g>
<g id="patch_103">
<path d="M 76.68 287.64 L 76.68 80.28 " style="fill: none; stroke: #000000; stroke-width: 0.8; stroke-linejoin: miter; stroke-linecap: square"/>
</g>
<g id="patch_104">
<path d="M 551.16 287.64 L 551.16 80.28 " style="fill: none; stroke: #000000; stroke-width: 0.8; stroke-linejoin: miter; stroke-linecap: square"/>
</g>
<g id="patch_105">
<path d="M 76.68 287.64 L 551.16 287.64 " style="fill: none; stroke: #000000; stroke-width: 0.8; stroke-linejoin: miter; stroke-linecap: square"/>
</g>
<g id="patch_106">
<path d="M 76.68 80.28 L 551.16 80.28 " style="fill: none; stroke: #000000; stroke-width: 0.8; stroke-linejoin: miter; stroke-linecap: square"/>
</g>
<g id="patch_107">
<path d="M 78.499404 80.064 L 548.800596 80.064 Q 550.8 80.064 550.8 78.064596 L 550.8 65.251404 Q 550.8 63.252 548.800596 63.252 L 78.499404 63.252 Q 76.5 63.252 76.5 65.251404 L 76.5 78.064596 Q 76.5 80.064 78.499404 80.064 z" style="fill: #ffffff; opacity: 0.8; stroke: #cccccc; stroke-linejoin: miter"/>
</g>
<g id="legend_1">
<g id="line2d_16">
<g>
<use href="#m72cab0bea4" x="87.8400" y="71.2800" style="fill: #bf00bf; stroke: #bf00bf; stroke-linejoin: miter"/>
</g>
</g>
<g id="text_13">
<text style="font-size: 8.328px; font-family: 'DejaVu Sans', sans-serif; text-anchor: start" x="103.1496" y="73.992836">Mean</text>
</g>
<g id="line2d_17">
<g>
<use href="#m4deedd8c69" x="187.2000" y="71.2800" style="fill: #ff0000; stroke: #ff0000; stroke-linejoin: miter"/>
</g>
</g>
<g id="text_14">
<text style="font-size: 8.328px; font-family: 'DejaVu Sans', sans-serif; text-anchor: start" x="202.0961" y="73.992836">Median</text>
</g>
<g id="line2d_18">
<path d="M 286.1528 71.6400 L 294.4808 71.6400 L 302.8088 71.6400" style="fill: none; stroke-dasharray: 1.8,2.97; stroke-dashoffset: 0; stroke: #bf00bf; stroke-width: 1.8"/>
<g>
<use href="#ma1c6d2c03d" x="294.5880" y="71.2800" style="fill: #bf00bf; stroke: #bf00bf; stroke-linejoin: miter"/>
</g>
</g>
<g id="text_15">
<text style="font-size: 8.328px; font-family: 'DejaVu Sans', sans-serif; text-anchor: start" x="309.4712" y="73.992836">Standard deviation</text>
</g>
<g id="line2d_19">
<path d="M 442.6249 71.6400 L 450.9529 71.6400 L 459.2809 71.6400" style="fill: none; stroke-dasharray: 6.66,2.88; stroke-dashoffset: 0; stroke: #ff0000; stroke-width: 1.8"/>
<g>
<use href="#m2a46c5d71a" x="451.0800" y="71.2800" style="fill: #ff0000; stroke: #ff0000; stroke-linejoin: miter"/>
</g>
</g>
<g id="text_16">
<text style="font-size: 8.328px; font-family: 'DejaVu Sans', sans-serif; text-anchor: start" x="465.9433" y="73.992836">Inter quartile range</text>
</g>
</g>
</g>
<g id="axes_2">
<g id="patch_108">
<path d="M 76.68 544.68 L 551.16 544.68 L 551.16 330.84 L 76.68 330.84 z" style="fill: #ffffff"/>
</g>
<g id="patch_109">
<path d="M 76.68 544.68 L 81.72 544.68 L 81.72 469.8 L 76.68 469.8 z" clip-path="url(#p4fbd78227a)" style="fill: #008000; stroke: #000000; stroke-width: 0.8; stroke-linejoin: miter"/>
</g>
<g id="patch_110">
<path d="M 81.72 544.68 L 86.04 544.68 L 86.04 539.64 L 81.72 539.64 z" clip-path="url(#p4fbd78227a)" style="fill: #008000; stroke: #000000; stroke-width: 0.8; stroke-linejoin: miter"/>
</g>
<g id="patch_111">
<path d="M 86.04 544.68 L 91.08 544.68 L 91.08 541.08 L 86.04 541.08 z" clip-path="url(#p4fbd78227a)" style="fill: #008000; stroke: #000000; stroke-width: 0.8; stroke-linejoin: miter"/>
</g>
<g id="patch_112">
<path d="M 91.08 544.68 L 96.12 544.68 L 96.12 541.8 L 91.08 541.8 z" clip-path="url(#p4fbd78227a)" style="fill: #008000; stroke: #000000; stroke-width: 0.8; stroke-linejoin: miter"/>
</g>
<g id="patch_113">
<path d="M 96.12 544.68 L 100.44 544.68 L 100.44 541.8 L 96.12 541.8 z" clip-path="url(#p4fbd78227a)" style="fill: #008000; stroke: #000000; stroke-width: 0.8; stroke-linejoin: miter"/>
</g>
<g id="patch_114">
<path d="M 100.44 544.68 L 105.48 544.68 L 105.48 542.52 L 100.44 542.52 z" clip-path="url(#p4fbd78227a)" style="fill: #008000; stroke: #000000; stroke-width: 0.8; stroke-linejoin: miter"/>
</g>
<g id="patch_115">
<path d="M 105.48 544.68 L 109.8 544.68 L 109.8 542.52 L 105.48 542.52 z" clip-path="url(#p4fbd78227a)" style="fill: #008000; stroke: #000000; stroke-width: 0.8; stroke-linejoin: miter"/>
</g>
<g id="patch_116">
<path d="M 109.8 544.68 L 114.84 544.68 L 114.84 542.52 L 109.8 542.52 z" clip-path="url(#p4fbd78227a)" style="fill: #008000; stroke: #000000; stroke-width: 0.8; stroke-linejoin: miter"/>
</g>
<g id="patch_117">
<path d="M 114.84 544.68 L 119.88 544.68 L 119.88 543.24 L 114.84 543.24 z" clip-path="url(#p4fbd78227a)" style="fill: #008000; stroke: #000000; stroke-width: 0.8; stroke-linejoin: miter"/>
</g>
<g id="patch_118">
<path d="M 119.88 544.68 L 124.2 544.68 L 124.2 543.24 L 119.88 543.24 z" clip-path="url(#p4fbd78227a)" style="fill: #008000; stroke: #000000; stroke-width: 0.8; stroke-linejoin: miter"/>
</g>
<g id="patch_119">
<path d="M 124.2 544.68 L 129.24 544.68 L 129.24 543.24 L 124.2 543.24 z" clip-path="url(#p4fbd78227a)" style="fill: #008000; stroke: #000000; stroke-width: 0.8; stroke-linejoin: miter"/>
</g>
<g id="patch_120">
<path d="M 129.24 544.68 L 133.56 544.68 L 133.56 543.24 L 129.24 543.24 z" clip-path="url(#p4fbd78227a)" style="fill: #008000; stroke: #000000; stroke-width: 0.8; stroke-linejoin: miter"/>
</g>
<g id="patch_121">
<path d="M 133.56 544.68 L 138.6 544.68 L 138.6 543.24 L 133.56 543.24 z" clip-path="url(#p4fbd78227a)" style="fill: #008000; stroke: #000000; stroke-width: 0.8; stroke-linejoin: miter"/>
</g>
<g id="patch_122">
<path d="M 138.6 544.68 L 143.64 544.68 L 143.64 543.24 L 138.6 543.24 z" clip-path="url(#p4fbd78227a)" style="fill: #008000; stroke: #000000; stroke-width: 0.8; stroke-linejoin: miter"/>
</g>
<g id="patch_123">
<path d="M 143.64 544.68 L 147.96 544.68 L 147.96 543.24 L 143.64 543.24 z" clip-path="url(#p4fbd78227a)" style="fill: #008000; stroke: #000000; stroke-width: 0.8; stroke-linejoin: miter"/>
</g>
<g id="patch_124">
<path d="M 147.96 544.68 L 153 544.68 L 153 543.24 L 147.96 543.24 z" clip-path="url(#p4fbd78227a)" style="fill: #008000; stroke: #000000; stroke-width: 0.8; stroke-linejoin: miter"/>
</g>
<g id="patch_125">
<path d="M 153 544.68 L 157.32 544.68 L 157.32 543.24 L 153 543.24 z" clip-path="url(#p4fbd78227a)" style="fill: #008000; stroke: #000000; stroke-width: 0.8; stroke-linejoin: miter"/>
</g>
<g id="patch_126">
<path d="M 157.32 544.68 L 162.36 544.68 L 162.36 543.24 L 157.32 543.24 z" clip-path="url(#p4fbd78227a)" style="fill: #008000; stroke: #000000; stroke-width: 0.8; stroke-linejoin: miter"/>
</g>
<g id="patch_127">
<path d="M 162.36 544.68 L 167.4 544.68 L 167.4 543.24 L 162.36 543.24 z" clip-path="url(#p4fbd78227a)" style="fill: #008000; stroke: #000000; stroke-width: 0.8; stroke-linejoin: miter"/>
</g>
<g id="patch_128">
<path d="M 167.4 544.68 L 171.72 544.68 L 171.72 543.24 L 167.4 543.24 z" clip-path="url(#p4fbd78227a)" style="fill: #008000; stroke: #000000; stroke-width: 0.8; stroke-linejoin: miter"/>
</g>
<g id="patch_129">
<path d="M 171.72 544.68 L 176.76 544.68 L 176.76 543.96 L 171.72 543.96 z" clip-path="url(#p4fbd78227a)" style="fill: #008000; stroke: #000000; stroke-width: 0.8; stroke-linejoin: miter"/>
</g>
<g id="patch_130">
<path d="M 176.76 544.68 L 181.08 544.68 L 181.08 543.24 L 176.76 543.24 z" clip-path="url(#p4fbd78227a)" style="fill: #008000; stroke: #000000; stroke-width: 0.8; stroke-linejoin: miter"/>
</g>
<g id="patch_131">
<path d="M 181.08 544.68 L 186.12 544.68 L 186.12 543.24 L 181.08 543.24 z" clip-path="url(#p4fbd78227a)" style="fill: #008000; stroke: #000000; stroke-width: 0.8; stroke-linejoin: miter"/>
</g>
<g id="patch_132">
<path d="M 186.12 544.68 L 190.44 544.68 L 190.44 543.96 L 186.12 543.96 z" clip-path="url(#p4fbd78227a)" style="fill: #008000; stroke: #000000; stroke-width: 0.8; stroke-linejoin: miter"/>
</g>
<g id="patch_133">
<path d="M 190.44 544.68 L 195.48 544.68 L 195.48 543.96 L 190.44 543.96 z" clip-path="url(#p4fbd78227a)" style="fill: #008000; stroke: #000000; stroke-width: 0.8; stroke-linejoin: miter"/>
</g>
<g id="patch_134">
<path d="M 195.48 544.68 L 200.52 544.68 L 200.52 543.24 L 195.48 543.24 z" clip-path="url(#p4fbd78227a)" style="fill: #008000; stroke: #000000; stroke-width: 0.8; stroke-linejoin: miter"/>
</g>
<g id="patch_135">
<path d="M 200.52 544.68 L 204.84 544.68 L 204.84 543.96 L 200.52 543.96 z" clip-path="url(#p4fbd78227a)" style="fill: #008000; stroke: #000000; stroke-width: 0.8; stroke-linejoin: miter"/>
</g>
<g id="patch_136">
<path d="M 204.84 544.68 L 209.88 544.68 L 209.88 543.96 L 204.84 543.96 z" clip-path="url(#p4fbd78227a)" style="fill: #008000; stroke: #000000; stroke-width: 0.8; stroke-linejoin: miter"/>
</g>
<g id="patch_137">
<path d="M 209.88 544.68 L 214.2 544.68 L 214.2 543.96 L 209.88 543.96 z" clip-path="url(#p4fbd78227a)" style="fill: #008000; stroke: #000000; stroke-width: 0.8; stroke-linejoin: miter"/>
</g>
<g id="patch_138">
<path d="M 214.2 544.68 L 219.24 544.68 L 219.24 543.96 L 214.2 543.96 z" clip-path="url(#p4fbd78227a)" style="fill: #008000; stroke: #000000; stroke-width: 0.8; stroke-linejoin: miter"/>
</g>
<g id="patch_139">
<path d="M 219.24 544.68 L 224.28 544.68 L 224.28 543.96 L 219.24 543.96 z" clip-path="url(#p4fbd78227a)" style="fill: #008000; stroke: #000000; stroke-width: 0.8; stroke-linejoin: miter"/>
</g>
<g id="patch_140">
<path d="M 224.28 544.68 L 228.6 544.68 L 228.6 543.96 L 224.28 543.96 z" clip-path="url(#p4fbd78227a)" style="fill: #008000; stroke: #000000; stroke-width: 0.8; stroke-linejoin: miter"/>
</g>
<g id="patch_141">
<path d="M 228.6 544.68 L 233.64 544.68 L 233.64 543.96 L 228.6 543.96 z" clip-path="url(#p4fbd78227a)" style="fill: #008000; stroke: #000000; stroke-width: 0.8; stroke-linejoin: miter"/>
</g>
<g id="patch_142">
<path d="M 233.64 544.68 L 237.96 544.68 L 237.96 543.96 L 233.64 543.96 z" clip-path="url(#p4fbd78227a)" style="fill: #008000; stroke: #000000; stroke-width: 0.8; stroke-linejoin: miter"/>
</g>
<g id="patch_143">
<path d="M 237.96 544.68 L 243 544.68 L 243 543.96 L 237.96 543.96 z" clip-path="url(#p4fbd78227a)" style="fill: #008000; stroke: #000000; stroke-width: 0.8; stroke-linejoin: miter"/>
</g>
<g id="patch_144">
<path d="M 243 544.68 L 248.04 544.68 L 248.04 543.96 L 243 543.96 z" clip-path="url(#p4fbd78227a)" style="fill: #008000; stroke: #000000; stroke-width: 0.8; stroke-linejoin: miter"/>
</g>
<g id="patch_145">
<path d="M 248.04 544.68 L 252.36 544.68 L 252.36 543.96 L 248.04 543.96 z" clip-path="url(#p4fbd78227a)" style="fill: #008000; stroke: #000000; stroke-width: 0.8; stroke-linejoin: miter"/>
</g>
<g id="patch_146">
<path d="M 252.36 544.68 L 257.4 544.68 L 257.4 543.96 L 252.36 543.96 z" clip-path="url(#p4fbd78227a)" style="fill: #008000; stroke: #000000; stroke-width: 0.8; stroke-linejoin: miter"/>
</g>
<g id="patch_147">
<path d="M 257.4 544.68 L 261.72 544.68 L 261.72 543.96 L 257.4 543.96 z" clip-path="url(#p4fbd78227a)" style="fill: #008000; stroke: #000000; stroke-width: 0.8; stroke-linejoin: miter"/>
</g>
<g id="patch_148">
<path d="M 261.72 544.68 L 266.76 544.68 L 266.76 543.96 L 261.72 543.96 z" clip-path="url(#p4fbd78227a)" style="fill: #008000; stroke: #000000; stroke-width: 0.8; stroke-linejoin: miter"/>
</g>
<g id="patch_149">
<path d="M 266.76 544.68 L 271.8 544.68 L 271.8 543.96 L 266.76 543.96 z" clip-path="url(#p4fbd78227a)" style="fill: #008000; stroke: #000000; stroke-width: 0.8; stroke-linejoin: miter"/>
</g>
<g id="patch_150">
<path d="M 271.8 544.68 L 276.12 544.68 L 276.12 543.96 L 271.8 543.96 z" clip-path="url(#p4fbd78227a)" style="fill: #008000; stroke: #000000; stroke-width: 0.8; stroke-linejoin: miter"/>
</g>
<g id="patch_151">
<path d="M 276.12 544.68 L 281.16 544.68 L 281.16 543.96 L 276.12 543.96 z" clip-path="url(#p4fbd78227a)" style="fill: #008000; stroke: #000000; stroke-width: 0.8; stroke-linejoin: miter"/>
</g>
<g id="patch_152">
<path d="M 281.16 544.68 L 285.48 544.68 L 285.48 543.96 L 281.16 543.96 z" clip-path="url(#p4fbd78227a)" style="fill: #008000; stroke: #000000; stroke-width: 0.8; stroke-linejoin: miter"/>
</g>
<g id="patch_153">
<path d="M 285.48 544.68 L 290.52 544.68 L 290.52 543.96 L 285.48 543.96 z" clip-path="url(#p4fbd78227a)" style="fill: #008000; stroke: #000000; stroke-width: 0.8; stroke-linejoin: miter"/>
</g>
<g id="patch_154">
<path d="M 290.52 544.68 L 295.56 544.68 L 295.56 543.96 L 290.52 543.96 z" clip-path="url(#p4fbd78227a)" style="fill: #008000; stroke: #000000; stroke-width: 0.8; stroke-linejoin: miter"/>
</g>
<g id="patch_155">
<path d="M 295.56 544.68 L 299.88 544.68 L 299.88 543.96 L 295.56 543.96 z" clip-path="url(#p4fbd78227a)" style="fill: #008000; stroke: #000000; stroke-width: 0.8; stroke-linejoin: miter"/>
</g>
<g id="patch_156">
<path d="M 299.88 544.68 L 304.92 544.68 L 304.92 543.96 L 299.88 543.96 z" clip-path="url(#p4fbd78227a)" style="fill: #008000; stroke: #000000; stroke-width: 0.8; stroke-linejoin: miter"/>
</g>
<g id="patch_157">
<path d="M 304.92 544.68 L 309.24 544.68 L 309.24 543.96 L 304.92 543.96 z" clip-path="url(#p4fbd78227a)" style="fill: #008000; stroke: #000000; stroke-width: 0.8; stroke-linejoin: miter"/>
</g>
<g id="patch_158">
<path d="M 309.24 544.68 L 314.28 544.68 L 314.28 543.96 L 309.24 543.96 z" clip-path="url(#p4fbd78227a)" style="fill: #008000; stroke: #000000; stroke-width: 0.8; stroke-linejoin: miter"/>
</g>
<g id="patch_159">
<path d="M 314.28 544.68 L 318.6 544.68 L 318.6 543.96 L 314.28 543.96 z" clip-path="url(#p4fbd78227a)" style="fill: #008000; stroke: #000000; stroke-width: 0.8; stroke-linejoin: miter"/>
</g>
<g id="patch_160">
<path d="M 318.6 544.68 L 323.64 544.68 L 323.64 543.96 L 318.6 543.96 z" clip-path="url(#p4fbd78227a)" style="fill: #008000; stroke: #000000; stroke-width: 0.8; stroke-linejoin: miter"/>
</g>
<g id="patch_161">
<path d="M 323.64 544.68 L 328.68 544.68 L 328.68 543.96 L 323.64 543.96 z" clip-path="url(#p4fbd78227a)" style="fill: #008000; stroke: #000000; stroke-width: 0.8; stroke-linejoin: miter"/>
</g>
<g id="patch_162">
<path d="M 328.68 544.68 L 333 544.68 L 333 543.96 L 328.68 543.96 z" clip-path="url(#p4fbd78227a)" style="fill: #008000; stroke: #000000; stroke-width: 0.8; stroke-linejoin: miter"/>
</g>
<g id="patch_163">
<path d="M 333 544.68 L 338.04 544.68 L 338.04 543.96 L 333 543.96 z" clip-path="url(#p4fbd78227a)" style="fill: #008000; stroke: #000000; stroke-width: 0.8; stroke-linejoin: miter"/>
</g>
<g id="patch_164">
<path d="M 338.04 544.68 L 342.36 544.68 L 342.36 543.96 L 338.04 543.96 z" clip-path="url(#p4fbd78227a)" style="fill: #008000; stroke: #000000; stroke-width: 0.8; stroke-linejoin: miter"/>
</g>
<g id="patch_165">
<path d="M 342.36 544.68 L 347.4 544.68 L 347.4 543.96 L 342.36 543.96 z" clip-path="url(#p4fbd78227a)" style="fill: #008000; stroke: #000000; stroke-width: 0.8; stroke-linejoin: miter"/>
</g>
<g id="patch_166">
<path d="M 347.4 544.68 L 352.44 544.68 L 352.44 543.96 L 347.4 543.96 z" clip-path="url(#p4fbd78227a)" style="fill: #008000; stroke: #000000; stroke-width: 0.8; stroke-linejoin: miter"/>
</g>
<g id="patch_167">
<path d="M 352.44 544.68 L 356.76 544.68 L 356.76 543.96 L 352.44 543.96 z" clip-path="url(#p4fbd78227a)" style="fill: #008000; stroke: #000000; stroke-width: 0.8; stroke-linejoin: miter"/>
</g>
<g id="patch_168">
<path d="M 356.76 544.68 L 361.8 544.68 L 361.8 543.96 L 356.76 543.96 z" clip-path="url(#p4fbd78227a)" style="fill: #008000; stroke: #000000; stroke-width: 0.8; stroke-linejoin: miter"/>
</g>
<g id="patch_169">
<path d="M 361.8 544.68 L 366.12 544.68 L 366.12 543.96 L 361.8 543.96 z" clip-path="url(#p4fbd78227a)" style="fill: #008000; stroke: #000000; stroke-width: 0.8; stroke-linejoin: miter"/>
</g>
<g id="patch_170">
<path d="M 366.12 544.68 L 371.16 544.68 L 371.16 543.96 L 366.12 543.96 z" clip-path="url(#p4fbd78227a)" style="fill: #008000; stroke: #000000; stroke-width: 0.8; stroke-linejoin: miter"/>
</g>
<g id="patch_171">
<path d="M 371.16 544.68 L 376.2 544.68 L 376.2 543.96 L 371.16 543.96 z" clip-path="url(#p4fbd78227a)" style="fill: #008000; stroke: #000000; stroke-width: 0.8; stroke-linejoin: miter"/>
</g>
<g id="patch_172">
<path d="M 376.2 544.68 L 380.52 544.68 L 380.52 543.96 L 376.2 543.96 z" clip-path="url(#p4fbd78227a)" style="fill: #008000; stroke: #000000; stroke-width: 0.8; stroke-linejoin: miter"/>
</g>
<g id="patch_173">
<path d="M 380.52 544.68 L 385.56 544.68 L 385.56 543.96 L 380.52 543.96 z" clip-path="url(#p4fbd78227a)" style="fill: #008000; stroke: #000000; stroke-width: 0.8; stroke-linejoin: miter"/>
</g>
<g id="patch_174">
<path d="M 385.56 544.68 L 389.88 544.68 L 389.88 543.96 L 385.56 543.96 z" clip-path="url(#p4fbd78227a)" style="fill: #008000; stroke: #000000; stroke-width: 0.8; stroke-linejoin: miter"/>
</g>
<g id="patch_175">
<path d="M 389.88 544.68 L 394.92 544.68 L 394.92 543.96 L 389.88 543.96 z" clip-path="url(#p4fbd78227a)" style="fill: #008000; stroke: #000000; stroke-width: 0.8; stroke-linejoin: miter"/>
</g>
<g id="patch_176">
<path d="M 394.92 544.68 L 399.96 544.68 L 399.96 543.96 L 394.92 543.96 z" clip-path="url(#p4fbd78227a)" style="fill: #008000; stroke: #000000; stroke-width: 0.8; stroke-linejoin: miter"/>
</g>
<g id="patch_177">
<path d="M 399.96 544.68 L 404.28 544.68 L 404.28 543.96 L 399.96 543.96 z" clip-path="url(#p4fbd78227a)" style="fill: #008000; stroke: #000000; stroke-width: 0.8; stroke-linejoin: miter"/>
</g>
<g id="patch_178">
<path d="M 404.28 544.68 L 409.32 544.68 L 409.32 543.96 L 404.28 543.96 z" clip-path="url(#p4fbd78227a)" style="fill: #008000; stroke: #000000; stroke-width: 0.8; stroke-linejoin: miter"/>
</g>
<g id="patch_179">
<path d="M 409.32 544.68 L 413.64 544.68 L 413.64 543.96 L 409.32 543.96 z" clip-path="url(#p4fbd78227a)" style="fill: #008000; stroke: #000000; stroke-width: 0.8; stroke-linejoin: miter"/>
</g>
<g id="patch_180">
<path d="M 413.64 544.68 L 418.68 544.68 L 418.68 543.96 L 413.64 543.96 z" clip-path="url(#p4fbd78227a)" style="fill: #008000; stroke: #000000; stroke-width: 0.8; stroke-linejoin: miter"/>
</g>
<g id="patch_181">
<path d="M 418.68 544.68 L 423 544.68 L 423 543.96 L 418.68 543.96 z" clip-path="url(#p4fbd78227a)" style="fill: #008000; stroke: #000000; stroke-width: 0.8; stroke-linejoin: miter"/>
</g>
<g id="patch_182">
<path d="M 423 544.68 L 428.04 544.68 L 428.04 543.96 L 423 543.96 z" clip-path="url(#p4fbd78227a)" style="fill: #008000; stroke: #000000; stroke-width: 0.8; stroke-linejoin: miter"/>
</g>
<g id="patch_183">
<path d="M 428.04 544.68 L 433.08 544.68 L 433.08 543.96 L 428.04 543.96 z" clip-path="url(#p4fbd78227a)" style="fill: #008000; stroke: #000000; stroke-width: 0.8; stroke-linejoin: miter"/>
</g>
<g id="patch_184">
<path d="M 433.08 544.68 L 437.4 544.68 L 437.4 543.24 L 433.08 543.24 z" clip-path="url(#p4fbd78227a)" style="fill: #008000; stroke: #000000; stroke-width: 0.8; stroke-linejoin: miter"/>
</g>
<g id="patch_185">
<path d="M 437.4 544.68 L 442.44 544.68 L 442.44 543.24 L 437.4 543.24 z" clip-path="url(#p4fbd78227a)" style="fill: #008000; stroke: #000000; stroke-width: 0.8; stroke-linejoin: miter"/>
</g>
<g id="patch_186">
<path d="M 442.44 544.68 L 446.76 544.68 L 446.76 543.24 L 442.44 543.24 z" clip-path="url(#p4fbd78227a)" style="fill: #008000; stroke: #000000; stroke-width: 0.8; stroke-linejoin: miter"/>
</g>
<g id="patch_187">
<path d="M 446.76 544.68 L 451.8 544.68 L 451.8 543.24 L 446.76 543.24 z" clip-path="url(#p4fbd78227a)" style="fill: #008000; stroke: #000000; stroke-width: 0.8; stroke-linejoin: miter"/>
</g>
<g id="patch_188">
<path d="M 451.8 544.68 L 456.84 544.68 L 456.84 543.24 L 451.8 543.24 z" clip-path="url(#p4fbd78227a)" style="fill: #008000; stroke: #000000; stroke-width: 0.8; stroke-linejoin: miter"/>
</g>
<g id="patch_189">
<path d="M 456.84 544.68 L 461.16 544.68 L 461.16 543.96 L 456.84 543.96 z" clip-path="url(#p4fbd78227a)" style="fill: #008000; stroke: #000000; stroke-width: 0.8; stroke-linejoin: miter"/>
</g>
<g id="patch_190">
<path d="M 461.16 544.68 L 466.2 544.68 L 466.2 543.24 L 461.16 543.24 z" clip-path="url(#p4fbd78227a)" style="fill: #008000; stroke: #000000; stroke-width: 0.8; stroke-linejoin: miter"/>
</g>
<g id="patch_191">
<path d="M 466.2 544.68 L 470.52 544.68 L 470.52 543.24 L 466.2 543.24 z" clip-path="url(#p4fbd78227a)" style="fill: #008000; stroke: #000000; stroke-width: 0.8; stroke-linejoin: miter"/>
</g>
<g id="patch_192">
<path d="M 470.52 544.68 L 475.56 544.68 L 475.56 543.24 L 470.52 543.24 z" clip-path="url(#p4fbd78227a)" style="fill: #008000; stroke: #000000; stroke-width: 0.8; stroke-linejoin: miter"/>
</g>
<g id="patch_193">
<path d="M 475.56 544.68 L 480.6 544.68 L 480.6 543.24 L 475.56 543.24 z" clip-path="url(#p4fbd78227a)" style="fill: #008000; stroke: #000000; stroke-width: 0.8; stroke-linejoin: miter"/>
</g>
<g id="patch_194">
<path d="M 480.6 544.68 L 484.92 544.68 L 484.92 543.24 L 480.6 543.24 z" clip-path="url(#p4fbd78227a)" style="fill: #008000; stroke: #000000; stroke-width: 0.8; stroke-linejoin: miter"/>
</g>
<g id="patch_195">
<path d="M 484.92 544.68 L 489.96 544.68 L 489.96 543.24 L 484.92 543.24 z" clip-path="url(#p4fbd78227a)" style="fill: #008000; stroke: #000000; stroke-width: 0.8; stroke-linejoin: miter"/>
</g>
<g id="patch_196">
<path d="M 489.96 544.68 L 494.28 544.68 L 494.28 543.24 L 489.96 543.24 z" clip-path="url(#p4fbd78227a)" style="fill: #008000; stroke: #000000; stroke-width: 0.8; stroke-linejoin: miter"/>
</g>
<g id="patch_197">
<path d="M 494.28 544.68 L 499.32 544.68 L 499.32 543.24 L 494.28 543.24 z" clip-path="url(#p4fbd78227a)" style="fill: #008000; stroke: #000000; stroke-width: 0.8; stroke-linejoin: miter"/>
</g>
<g id="patch_198">
<path d="M 499.32 544.68 L 504.36 544.68 L 504.36 543.24 L 499.32 543.24 z" clip-path="url(#p4fbd78227a)" style="fill: #008000; stroke: #000000; stroke-width: 0.8; stroke-linejoin: miter"/>
</g>
<g id="patch_199">
<path d="M 504.36 544.68 L 508.68 544.68 L 508.68 542.52 L 504.36 542.52 z" clip-path="url(#p4fbd78227a)" style="fill: #008000; stroke: #000000; stroke-width: 0.8; stroke-linejoin: miter"/>
</g>
<g id="patch_200">
<path d="M 508.68 544.68 L 513.72 544.68 L 513.72 542.52 L 508.68 542.52 z" clip-path="url(#p4fbd78227a)" style="fill: #008000; stroke: #000000; stroke-width: 0.8; stroke-linejoin: miter"/>
</g>
<g id="patch_201">
<path d="M 513.72 544.68 L 518.04 544.68 L 518.04 542.52 L 513.72 542.52 z" clip-path="url(#p4fbd78227a)" style="fill: #008000; stroke: #000000; stroke-width: 0.8; stroke-linejoin: miter"/>
</g>
<g id="patch_202">
<path d="M 518.04 544.68 L 523.08 544.68 L 523.08 541.8 L 518.04 541.8 z" clip-path="url(#p4fbd78227a)" style="fill: #008000; stroke: #000000; stroke-width: 0.8; stroke-linejoin: miter"/>
</g>
<g id="patch_203">
<path d="M 523.08 544.68 L 527.4 544.68 L 527.4 541.8 L 523.08 541.8 z" clip-path="url(#p4fbd78227a)" style="fill: #008000; stroke: #000000; stroke-width: 0.8; stroke-linejoin: miter"/>
</g>
<g id="patch_204">
<path d="M 527.4 544.68 L 532.44 544.68 L 532.44 541.08 L 527.4 541.08 z" clip-path="url(#p4fbd78227a)" style="fill: #008000; stroke: #000000; stroke-width: 0.8; stroke-linejoin: miter"/>
</g>
<g id="patch_205">
<path d="M 532.44 544.68 L 537.48 544.68 L 537.48 539.64 L 532.44 539.64 z" clip-path="url(#p4fbd78227a)" style="fill: #008000; stroke: #000000; stroke-width: 0.8; stroke-linejoin: miter"/>
</g>
<g id="patch_206">
<path d="M 537.48 544.68 L 541.8 544.68 L 541.8 538.2 L 537.48 538.2 z" clip-path="url(#p4fbd78227a)" style="fill: #008000; stroke: #000000; stroke-width: 0.8; stroke-linejoin: miter"/>
</g>
<g id="patch_207">
<path d="M 541.8 544.68 L 546.84 544.68 L 546.84 535.32 L 541.8 535.32 z" clip-path="url(#p4fbd78227a)" style="fill: #008000; stroke: #000000; stroke-width: 0.8; stroke-linejoin: miter"/>
</g>
<g id="patch_208">
<path d="M 546.84 544.68 L 551.16 544.68 L 551.16 340.92 L 546.84 340.92 z" clip-path="url(#p4fbd78227a)" style="fill: #008000; stroke: #000000; stroke-width: 0.8; stroke-linejoin: miter"/>
</g>
<g id="matplotlib.axis_3">
<g id="xtick_7">
<g id="line2d_20">
<g>
<use href="#m9e2ede5a7e" x="76.6800" y="544.6800" style="stroke: #000000; stroke-width: 0.8"/>
</g>
</g>
<g id="text_17">
<text style="font-size: 12px; font-family: 'DejaVu Sans', sans-serif; text-anchor: middle" x="76.68" y="563.098125">0.0</text>
</g>
</g>
<g id="xtick_8">
<g id="line2d_21">
<g>
<use href="#m9e2ede5a7e" x="171.7200" y="544.6800" style="stroke: #000000; stroke-width: 0.8"/>
</g>
</g>
<g id="text_18">
<text style="font-size: 12px; font-family: 'DejaVu Sans', sans-serif; text-anchor: middle" x="171.576" y="563.098125">0.2</text>
</g>
</g>
<g id="xtick_9">
<g id="line2d_22">
<g>
<use href="#m9e2ede5a7e" x="266.7600" y="544.6800" style="stroke: #000000; stroke-width: 0.8"/>
</g>
</g>
<g id="text_19">
<text style="font-size: 12px; font-family: 'DejaVu Sans', sans-serif; text-anchor: middle" x="266.472" y="563.098125">0.4</text>
</g>
</g>
<g id="xtick_10">
<g id="line2d_23">
<g>
<use href="#m9e2ede5a7e" x="361.8000" y="544.6800" style="stroke: #000000; stroke-width: 0.8"/>
</g>
</g>
<g id="text_20">
<text style="font-size: 12px; font-family: 'DejaVu Sans', sans-serif; text-anchor: middle" x="361.368" y="563.098125">0.6</text>
</g>
</g>
<g id="xtick_11">
<g id="line2d_24">
<g>
<use href="#m9e2ede5a7e" x="456.8400" y="544.6800" style="stroke: #000000; stroke-width: 0.8"/>
</g>
</g>
<g id="text_21">
<text style="font-size: 12px; font-family: 'DejaVu Sans', sans-serif; text-anchor: middle" x="456.264" y="563.098125">0.8</text>
</g>
</g>
<g id="xtick_12">
<g id="line2d_25">
<g>
<use href="#m9e2ede5a7e" x="551.1600" y="544.6800" style="stroke: #000000; stroke-width: 0.8"/>
</g>
</g>
<g id="text_22">
<text style="font-size: 12px; font-family: 'DejaVu Sans', sans-serif; text-anchor: middle" x="551.16" y="563.098125">1.0</text>
</g>
</g>
<g id="text_23">
<text style="font-size: 12px; font-family: 'DejaVu Sans', sans-serif; text-anchor: middle" x="313.92" y="580.411875">VIIRS cloud mask confidently cloud [None]</text>
</g>
</g>
<g id="matplotlib.axis_4">
<g id="ytick_6">
<g id="line2d_26">
<g>
<use href="#mfef0c38aaf" x="76.6800" y="544.6800" style="stroke: #000000; stroke-width: 0.8"/>
</g>
</g>
<g id="text_24">
<text style="font-size: 12px; font-family: 'DejaVu Sans', sans-serif; text-anchor: end" x="68.03" y="549.239063">0.0</text>
</g>
</g>
<g id="ytick_7">
<g id="line2d_27">
<g>
<use href="#mfef0c38aaf" x="76.6800" y="515.8800" style="stroke: #000000; stroke-width: 0.8"/>
</g>
</g>
<g id="text_25">
<text style="font-size: 12px; font-family: 'DejaVu Sans', sans-serif; text-anchor: end" x="68.03" y="520.269863">0.5</text>
</g>
</g>
<g id="ytick_8">
<g id="line2d_28">
<g>
<use href="#mfef0c38aaf" x="76.6800" y="487.0800" style="stroke: #000000; stroke-width: 0.8"/>
</g>
</g>
<g id="text_26">
<text style="font-size: 12px; font-family: 'DejaVu Sans', sans-serif; text-anchor: end" x="68.03" y="491.300662">1.0</text>
</g>
</g>
<g id="ytick_9">
<g id="line2d_29">
<g>
<use href="#mfef0c38aaf" x="76.6800" y="457.5600" style="stroke: #000000; stroke-width: 0.8"/>
</g>
</g>
<g id="text_27">
<text style="font-size: 12px; font-family: 'DejaVu Sans', sans-serif; text-anchor: end" x="68.03" y="462.331462">1.5</text>
</g>
</g>
<g id="ytick_10">
<g id="line2d_30">
<g>
<use href="#mfef0c38aaf" x="76.6800" y="428.7600" style="stroke: #000000; stroke-width: 0.8"/>
</g>
</g>
<g id="text_28">
<text style="font-size: 12px; font-family: 'DejaVu Sans', sans-serif; text-anchor: end" x="68.03" y="433.362262">2.0</text>
</g>
</g>
<g id="ytick_11">
<g id="line2d_31">
<g>
<use href="#mfef0c38aaf" x="76.6800" y="399.9600" style="stroke: #000000; stroke-width: 0.8"/>
</g>
</g>
<g id="text_29">
<text style="font-size: 12px; font-family: 'DejaVu Sans', sans-serif; text-anchor: end" x="68.03" y="404.393062">2.5</text>
</g>
</g>
<g id="ytick_12">
<g id="line2d_32">
<g>
<use href="#mfef0c38aaf" x="76.6800" y="371.1600" style="stroke: #000000; stroke-width: 0.8"/>
</g>
</g>
<g id="text_30">
<text style="font-size: 12px; font-family: 'DejaVu Sans', sans-serif; text-anchor: end" x="68.03" y="375.423862">3.0</text>
</g>
</g>
<g id="ytick_13">
<g id="line2d_33">
<g>
<use href="#mfef0c38aaf" x="76.6800" y="341.6400" style="stroke: #000000; stroke-width: 0.8"/>
</g>
</g>
<g id="text_31">
<text style="font-size: 12px; font-family: 'DejaVu Sans', sans-serif; text-anchor: end" x="68.03" y="346.454662">3.5</text>
</g>
</g>
<g id="text_32">
<text style="font-size: 12px; font-family: 'DejaVu Sans', sans-serif; text-anchor: middle" x="41.250625" y="437.76" transform="rotate(-90 41.250625 437.76)">Number of observations</text>
</g>
<g id="text_33">
<text style="font-size: 12px; font-family: 'DejaVu Sans', sans-serif; text-anchor: start" x="77.430" y="327.140">1e6</text>
</g>
</g>
<g id="line2d_34">
<g clip-path="url(#p4fbd78227a)">
<use href="#m72cab0bea4" x="388.0800" y="536.4000" style="fill: #bf00bf; stroke: #bf00bf; stroke-linejoin: miter"/>
</g>
</g>
<g id="line2d_35">
<g clip-path="url(#p4fbd78227a)">
<use href="#m4deedd8c69" x="529.2000" y="527.7600" style="fill: #ff0000; stroke: #ff0000; stroke-linejoin: miter"/>
</g>
</g>
<g id="line2d_36">
<path d="M 190.08072 536.76 L 585.986832 536.76 " clip-path="url(#p4fbd78227a)" style="fill: none; stroke-dasharray: 1.8,2.97; stroke-dashoffset: 0; stroke: #bf00bf; stroke-width: 1.8"/>
<g clip-path="url(#p4fbd78227a)">
<use href="#ma1c6d2c03d" x="190.0800" y="536.4000" style="fill: #bf00bf; stroke: #bf00bf; stroke-linejoin: miter"/>
<use href="#ma1c6d2c03d" x="586.0800" y="536.4000" style="fill: #bf00bf; stroke: #bf00bf; stroke-linejoin: miter"/>
</g>
</g>
<g id="line2d_37">
<path d="M 159.761448 528.12 L 551.16 528.12 " clip-path="url(#p4fbd78227a)" style="fill: none; stroke-dasharray: 6.66,2.88; stroke-dashoffset: 0; stroke: #ff0000; stroke-width: 1.8"/>
<g clip-path="url(#p4fbd78227a)">
<use href="#m2a46c5d71a" x="159.8400" y="527.7600" style="fill: #ff0000; stroke: #ff0000; stroke-linejoin: miter"/>
<use href="#m2a46c5d71a" x="550.8000" y="527.7600" style="fill: #ff0000; stroke: #ff0000; stroke-linejoin: miter"/>
</g>
</g>
<g id="patch_209">
<path d="M 76.68 544.68 L 76.68 330.84 " style="fill: none; stroke: #000000; stroke-width: 0.8; stroke-linejoin: miter; stroke-linecap: square"/>
</g>
<g id="patch_210">
<path d="M 551.16 544.68 L 551.16 330.84 " style="fill: none; stroke: #000000; stroke-width: 0.8; stroke-linejoin: miter; stroke-linecap: square"/>
</g>
<g id="patch_211">
<path d="M 76.68 544.68 L 551.16 544.68 " style="fill: none; stroke: #000000; stroke-width: 0.8; stroke-linejoin: miter; stroke-linecap: square"/>
</g>
<g id="patch_212">
<path d="M 76.68 330.84 L 551.16 330.84 " style="fill: none; stroke: #000000; stroke-width: 0.8; stroke-linejoin: miter; stroke-linecap: square"/>
</g>
<g id="text_34">
<text style="font-size: 14.4px; font-family: 'DejaVu Sans', sans-serif; text-anchor: middle" x="313.92" y="323.44">2024-09-04</text>
</g>
</g>
</g>
<defs>
<clipPath id="p61da89e4b9">
<rect x="76.68" y="80.28" width="474.48" height="207.36"/>
</clipPath>
<clipPath id="p4fbd78227a">
<rect x="76.68" y="330.84" width="474.48" height="213.84"/>
</clipPath>
</defs>
</svg>

</body></html>
